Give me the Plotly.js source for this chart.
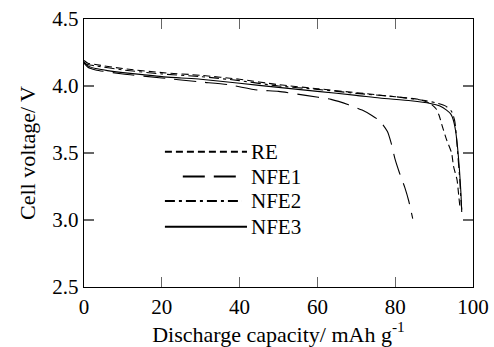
<!DOCTYPE html>
<html>
<head>
<meta charset="utf-8">
<script src="https://cdn.plot.ly/plotly-3.0.1.min.js"></script>
<style>html,body{margin:0;padding:0;background:#fff;}#chart{width:494px;height:347px;}</style>
</head>
<body>
<div id="chart"></div>
<script>
// Series names
const seriesNames = ["RE", "NFE1", "NFE2", "NFE3"];

// RE (short dash)
const reX = [0, 1, 3, 10, 20, 30, 40, 50, 60, 70, 80, 86, 89, 90.5, 91.3, 92, 93.2, 94.5, 95, 95.9, 96.3, 96.7];
const reY = [4.19, 4.17, 4.16, 4.13, 4.10, 4.08, 4.05, 4.01, 3.98, 3.95, 3.92, 3.90, 3.87, 3.83, 3.78, 3.71, 3.60, 3.50, 3.40, 3.30, 3.19, 3.08];

// NFE1 (long dash)
const nfe1X = [0, 1, 3, 10, 20, 30, 37, 44.5, 50, 57, 63.5, 68, 71.5, 74, 76, 78, 79, 80, 81, 82.5, 83.5, 84.5];
const nfe1Y = [4.17, 4.14, 4.12, 4.09, 4.06, 4.03, 4.01, 3.97, 3.96, 3.93, 3.90, 3.86, 3.82, 3.78, 3.74, 3.66, 3.57, 3.45, 3.36, 3.24, 3.14, 3.01];

// NFE2 (dash-dot)
const nfe2X = [0, 1, 3, 10, 20, 30, 40, 50, 60, 70, 80, 88, 91, 93, 94.5, 95.3, 95.8, 96.2, 96.6, 96.9, 97.2];
const nfe2Y = [4.17, 4.16, 4.15, 4.12, 4.09, 4.07, 4.04, 4.00, 3.975, 3.945, 3.92, 3.89, 3.87, 3.85, 3.81, 3.74, 3.60, 3.45, 3.30, 3.15, 3.05];

// NFE3 (solid)
const nfe3X = [0, 1, 3, 6, 10, 15, 20, 25, 30, 40, 50, 60, 70, 76, 84, 89, 91.5, 93.2, 94.3, 94.9, 95.5, 96, 96.5, 96.9, 97.1];
const nfe3Y = [4.18, 4.15, 4.13, 4.115, 4.10, 4.085, 4.07, 4.06, 4.05, 4.02, 3.99, 3.96, 3.93, 3.91, 3.89, 3.87, 3.85, 3.82, 3.79, 3.75, 3.67, 3.55, 3.38, 3.20, 3.06];

const xTicks = [0, 20, 40, 60, 80, 100];
const yTicks = [2.5, 3.0, 3.5, 4.0, 4.5];
const yTickLabels = ["2.5", "3.0", "3.5", "4.0", "4.5"];

const FONT = "Liberation Serif, Times New Roman, DejaVu Serif, serif";
const dashes = ["7px,4px", "22px,9px", "10px,4px,3px,4px", "solid"];
const xs = [reX, nfe1X, nfe2X, nfe3X];
const ys = [reY, nfe1Y, nfe2Y, nfe3Y];

const traces = seriesNames.map((n, i) => ({
  x: xs[i], y: ys[i], type: 'scatter', mode: 'lines', name: n,
  line: {color: '#000', width: 1.1, dash: dashes[i], shape: 'spline', smoothing: 0.6},
  showlegend: false
}));

// custom legend (paper coordinates)
const legRows = [0.505, 0.412, 0.321, 0.225];
const legX0 = [0.208, 0.254, 0.208, 0.208];
const legX1 = [0.419, 0.406, 0.406, 0.419];
const shapes = seriesNames.map((n, i) => ({
  type: 'line', xref: 'paper', yref: 'paper',
  x0: legX0[i], x1: legX1[i], y0: legRows[i], y1: legRows[i],
  line: {color: '#000', width: 2, dash: dashes[i]}
}));
const annotations = seriesNames.map((n, i) => ({
  xref: 'paper', yref: 'paper', x: 0.424, y: legRows[i],
  xanchor: 'left', yanchor: 'middle', text: n, showarrow: false,
  font: {family: FONT, size: 21, color: '#000'}
}));

const layout = {
  width: 494, height: 347,
  margin: {l: 84, r: 21, t: 19, b: 60},
  paper_bgcolor: '#fff', plot_bgcolor: '#fff',
  font: {family: FONT, size: 21, color: '#000'},
  xaxis: {
    range: [0, 100], tickvals: xTicks, ticks: 'inside', ticklen: 10, tickwidth: 1.3, tickcolor: '#666',
    showline: true, linecolor: '#000', linewidth: 1.3, mirror: 'ticks', showgrid: false, zeroline: false,
    tickfont: {family: FONT, size: 21, color: '#000'},
    title: {text: 'Discharge capacity/ mAh g<sup>-1</sup>', font: {family: FONT, size: 22, color: '#000'}, standoff: 8}
  },
  yaxis: {
    range: [2.5, 4.5], tickvals: yTicks, ticktext: yTickLabels, ticks: 'inside', ticklen: 10, tickwidth: 1.3, tickcolor: '#666',
    showline: true, linecolor: '#000', linewidth: 1.3, mirror: 'ticks', showgrid: false, zeroline: false,
    tickfont: {family: FONT, size: 21, color: '#000'},
    title: {text: 'Cell voltage/ V', font: {family: FONT, size: 22, color: '#000'}, standoff: 10}
  },
  shapes: shapes,
  annotations: annotations
};

Plotly.newPlot('chart', traces, layout, {displayModeBar: false, staticPlot: true});
</script>
</body>
</html>
